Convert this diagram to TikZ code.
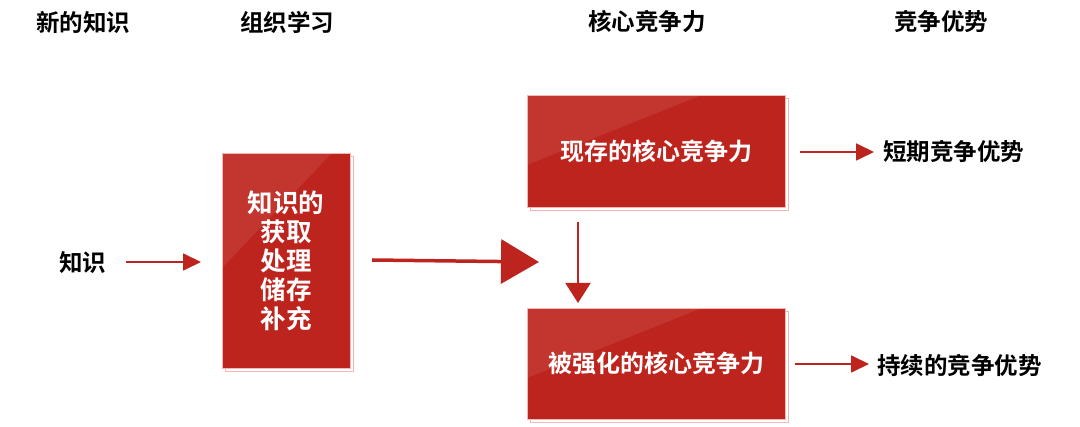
\documentclass[tikz,border=0pt]{standalone}
\usepackage{fontspec}
\setmainfont{Noto Sans CJK SC}[BoldFont={* Bold}]
\usetikzlibrary{arrows.meta,calc}
\definecolor{boxred}{HTML}{BE241E}
\definecolor{shadowpink}{HTML}{F2B8B5}
\tikzset{
  hdr/.style={font=\fontsize{23.5}{26}\selectfont\bfseries, text=black},
  lbl/.style={font=\fontsize{23.5}{26}\selectfont\bfseries, text=black, anchor=west},
  redbox/.style={fill=boxred, draw=shadowpink, line width=0.6pt, text=white,
    font=\fontsize{24}{26}\selectfont\bfseries, align=center, inner sep=0pt},
  tallbox/.style={redbox, font=\fontsize{25.5}{29}\selectfont\bfseries},
  shadowbox/.style={fill=white, draw=shadowpink, line width=0.8pt},
  gloss/.style 2 args={path picture={\fill[white,opacity=0.08]
     (path picture bounding box.north west) -- ($(path picture bounding box.north west)+(#1,0)$)
     -- ($(path picture bounding box.north west)+(0,#2)$) -- cycle;}},
  thinarrow/.style={draw=boxred, line width=1.8pt, -{Triangle[length=18pt,width=17pt]}},
}
\begin{document}
\begin{tikzpicture}[x=1pt,y=-1pt]
\useasboundingbox (0,0) rectangle (1080,427);
% headers
\node[hdr] (h1) at (83,22) {新的知识};
\node[hdr] (h2) at (287,22) {组织学习};
\node[hdr] (h3) at (647,22) {核心竞争力};
\node[hdr] (h4) at (941,22) {竞争优势};
% shadows
\draw[shadowbox] (225,156) rectangle (353,371);
\draw[shadowbox] (530,98) rectangle (788,210);
\draw[shadowbox] (530,311) rectangle (788,422);
% boxes
\node[tallbox, minimum width=128pt, minimum height=215pt, gloss={110}{115}] (b1) at (286,260.5)
  {知识的\\获取\\处理\\储存\\补充};
\node[redbox, minimum width=258pt, minimum height=112pt, gloss={175}{70}] (b2) at (656,151)
  {现存的核心竞争力};
\node[redbox, minimum width=258pt, minimum height=111pt, gloss={175}{70}] (b3) at (656,363.5)
  {被强化的核心竞争力};
% left label
\node[hdr] (k) at (83,263) {知识};
% right labels
\node[lbl, inner sep=0pt] (s1) at (883,152) {短期竞争优势};
\node[lbl, inner sep=0pt] (s2) at (877,366) {持续的竞争优势};
% coordinates
\coordinate (a1s) at (126,262);
\coordinate (a1e) at (201,262);
\coordinate (bigs) at (372,260);
\coordinate (bige) at (539,262);
\coordinate (ds) at (578,222);
\coordinate (de) at (578,303);
\coordinate (r1s) at (800,152);
\coordinate (r1e) at (874,152);
\coordinate (r2s) at (795,364);
\coordinate (r2e) at (869,364);
% arrows
\draw[thinarrow] (a1s) -- (a1e);
\draw[draw=boxred, line width=3.5pt, -{Triangle[length=38pt,width=44pt]}] (bigs) -- (bige);
\draw[draw=boxred, line width=2pt, -{Triangle[length=20pt,width=25pt]}] (ds) -- (de);
\draw[thinarrow] (r1s) -- (r1e);
\draw[thinarrow] (r2s) -- (r2e);
\end{tikzpicture}
\end{document}
